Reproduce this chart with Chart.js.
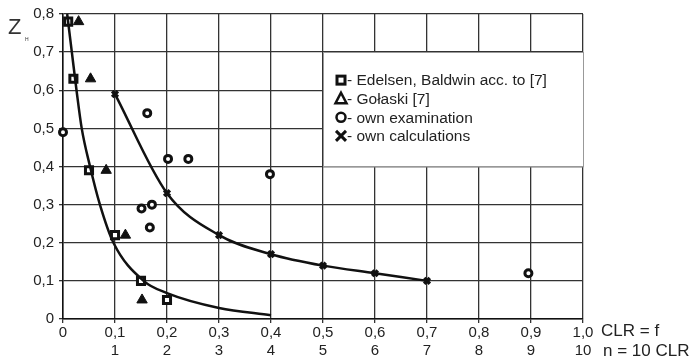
<!DOCTYPE html>
<html><head><meta charset="utf-8">
<script src="https://cdn.jsdelivr.net/npm/chart.js@4/dist/chart.umd.min.js"></script>
<style>html,body{margin:0;padding:0;background:#fff}canvas{display:block}</style>
</head><body>
<canvas id="c" width="691" height="361"></canvas>
<script>
// ---- data ----
const edelsenX = [0.01, 0.02, 0.05, 0.10, 0.15, 0.20];
const edelsenZ = [0.78, 0.63, 0.39, 0.22, 0.10, 0.05];
const golaskiX = [0.03, 0.053, 0.083, 0.12, 0.152];
const golaskiZ = [0.78, 0.63, 0.39, 0.22, 0.05];
const ownExamX = [0.0, 0.162, 0.202, 0.241, 0.398, 0.151, 0.171, 0.167, 0.895];
const ownExamZ = [0.49, 0.54, 0.42, 0.42, 0.38, 0.29, 0.30, 0.24, 0.12];
const ownCalcX = [0.1, 0.2, 0.3, 0.4, 0.5, 0.6, 0.7];
const ownCalcZ = [0.59, 0.33, 0.22, 0.17, 0.14, 0.12, 0.10];
const fitX = [0.008, 0.017, 0.026, 0.036, 0.052, 0.071, 0.097, 0.155, 0.2, 0.3, 0.4];
const fitZ = [0.80, 0.70, 0.60, 0.50, 0.40, 0.30, 0.20, 0.10, 0.068, 0.029, 0.01];
const xTickTop = ['0','0,1','0,2','0,3','0,4','0,5','0,6','0,7','0,8','0,9','1,0'];
const xTickBottom = ['','1','2','3','4','5','6','7','8','9','10'];
const yTickLabels = ['0','0,1','0,2','0,3','0,4','0,5','0,6','0,7','0,8'];
const legendLabels = ['- Edelsen, Baldwin acc. to [7]','- Gołaski [7]','- own examination','- own calculations'];
const xAxisTitles = ['CLR = f','n = 10 CLR'];
const yAxisTitle = 'Z';
const yAxisSub = 'H';

const pts = (xs, ys) => xs.map((x, i) => ({x, y: ys[i]}));
const FONT = '"Liberation Sans", Arial, sans-serif';

function drawSym(ctx, type, x, y) {
  ctx.save();
  ctx.fillStyle = '#111'; ctx.strokeStyle = '#111';
  if (type === 'rect') {
    ctx.lineWidth = 3; ctx.fillStyle = '#fff';
    ctx.fillRect(x-4, y-4, 8, 8); ctx.strokeRect(x-4, y-4, 8, 8);
  } else if (type === 'tri') {
    ctx.lineWidth = 2.5; ctx.lineJoin = 'miter';
    ctx.beginPath(); ctx.moveTo(x, y-6); ctx.lineTo(x+5.5, y+4.5); ctx.lineTo(x-5.5, y+4.5); ctx.closePath();
    ctx.fillStyle = '#fff'; ctx.fill(); ctx.stroke();
  } else if (type === 'circ') {
    ctx.lineWidth = 2.5; ctx.fillStyle = '#fff';
    ctx.beginPath(); ctx.arc(x, y, 4.5, 0, Math.PI*2); ctx.fill(); ctx.stroke();
  } else {
    ctx.lineWidth = 3;
    ctx.beginPath(); ctx.moveTo(x-5, y-5); ctx.lineTo(x+5, y+5); ctx.moveTo(x+5, y-5); ctx.lineTo(x-5, y+5); ctx.stroke();
  }
  ctx.restore();
}

const extras = {
  id: 'extras',
  afterDatasetsDraw(chart) {
    const ctx = chart.ctx, xs = chart.scales.x, ys = chart.scales.y;
    // legend box
    const l = xs.getPixelForValue(0.5), r = xs.getPixelForValue(1.0);
    const t = ys.getPixelForValue(0.7), b = ys.getPixelForValue(0.4);
    ctx.save();
    ctx.fillStyle = '#fff'; ctx.fillRect(l, t, r - l, b - t);
    ctx.strokeStyle = '#999'; ctx.lineWidth = 1;
    ctx.strokeRect(Math.round(l)+0.5, Math.round(t)+0.5, r - l, b - t);
    const types = ['rect','tri','circ','x'];
    ctx.font = '15.5px ' + FONT; ctx.fillStyle = '#222'; ctx.textBaseline = 'middle'; ctx.textAlign = 'left';
    legendLabels.forEach((s, i) => {
      const y = t + 28 + i * 18.6;
      drawSym(ctx, types[i], l + 18, y);
      ctx.fillText(s, l + 24, y + 1);
    });
    // axis titles
    ctx.font = '17px ' + FONT; ctx.fillStyle = '#222'; ctx.textBaseline = 'middle';
    const x0 = xs.getPixelForValue(1.0) + 18;
    ctx.fillText(xAxisTitles[0], x0, 331);
    ctx.fillText(xAxisTitles[1], x0 + 2, 351);
    ctx.font = '22px ' + FONT; ctx.fillStyle = '#333'; ctx.textBaseline = 'alphabetic';
    ctx.fillText(yAxisTitle, 8, 34);
    ctx.font = '5px ' + FONT;
    ctx.fillText(yAxisSub, 25, 41);
    ctx.restore();
  }
};

new Chart(document.getElementById('c'), {
  type: 'scatter',
  data: {
    datasets: [
      {label: 'fit', type: 'line', data: pts(fitX, fitZ), borderColor: '#111', borderWidth: 2.5,
       pointRadius: 0, cubicInterpolationMode: 'monotone', fill: false, clip: false},
      {label: 'own calc line', type: 'line', data: pts(ownCalcX, ownCalcZ), borderColor: '#111', borderWidth: 2.5,
       pointRadius: 0, cubicInterpolationMode: 'monotone', fill: false, clip: false},
      {label: 'Edelsen', data: pts(edelsenX, edelsenZ), pointStyle: 'rect', pointRadius: 5,
       pointBorderWidth: 3, pointBackgroundColor: '#fff', pointBorderColor: '#111', clip: false},
      {label: 'Gołaski', data: pts(golaskiX, golaskiZ), pointStyle: 'triangle', pointRadius: 6,
       pointBorderWidth: 1, pointBackgroundColor: '#111', pointBorderColor: '#111', clip: false},
      {label: 'own examination', data: pts(ownExamX, ownExamZ), pointStyle: 'circle', pointRadius: 3.5,
       pointBorderWidth: 3, pointBackgroundColor: '#fff', pointBorderColor: '#111', clip: false},
      {label: 'own calculations', data: pts(ownCalcX, ownCalcZ), pointStyle: 'crossRot', pointRadius: 4,
       pointBorderWidth: 3.5, pointBorderColor: '#111', clip: false}
    ]
  },
  options: {
    responsive: false, animation: false, devicePixelRatio: 1,
    layout: {padding: {left: 0, right: 108, top: 13, bottom: 0}},
    plugins: {legend: {display: false}, tooltip: {enabled: false}},
    scales: {
      x: {
        type: 'linear', min: 0, max: 1,
        afterFit(s) { s.height = 42; },
        afterBuildTicks(s) { s.ticks = xTickTop.map((_, i) => ({value: i / 10})); },
        ticks: {
          autoSkip: false, maxRotation: 0, padding: 1, color: '#222',
          font: {family: FONT, size: 15}, lineHeight: 1.2,
          callback: (v, i) => [xTickTop[i], xTickBottom[i]]
        },
        grid: {color: '#333', lineWidth: 1.3, tickLength: 4, tickColor: '#333'},
        border: {color: '#111', width: 1.5}
      },
      y: {
        type: 'linear', min: 0, max: 0.8,
        afterFit(s) { s.width = 63; },
        afterBuildTicks(s) { s.ticks = yTickLabels.map((_, i) => ({value: i / 10})); },
        ticks: {
          autoSkip: false, padding: 5, color: '#222',
          font: {family: FONT, size: 15},
          callback: (v, i) => yTickLabels[i]
        },
        grid: {color: '#333', lineWidth: 1.3, tickLength: 4, tickColor: '#333'},
        border: {color: '#111', width: 1.5}
      }
    }
  },
  plugins: [extras]
});
</script>
</body></html>
